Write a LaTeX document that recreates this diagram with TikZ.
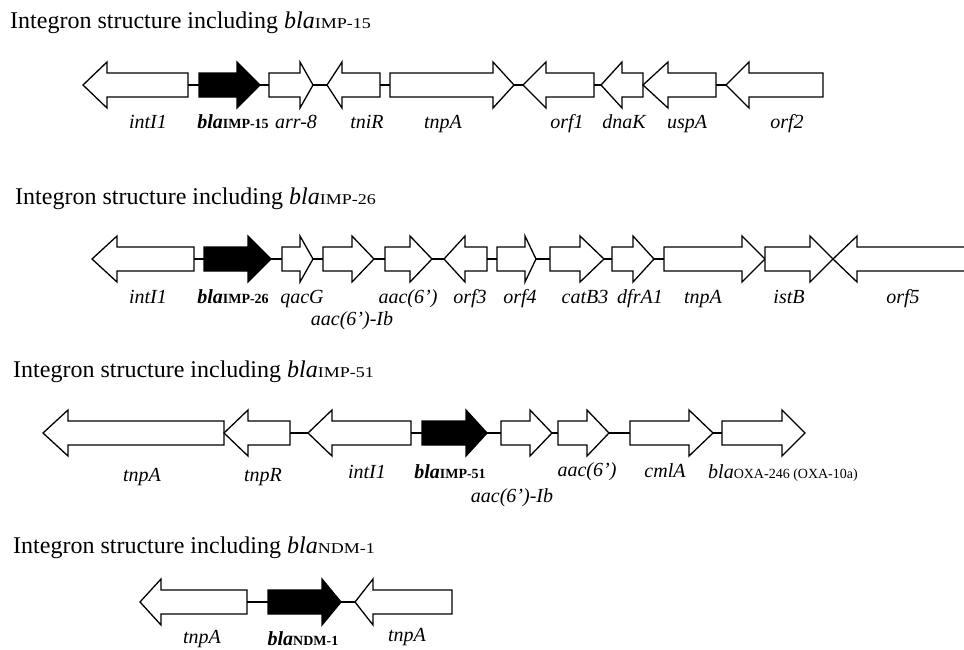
\documentclass[tikz,border=0pt]{standalone}
\usepackage{fontspec}
\usepackage{graphicx}
\setmainfont{Liberation Serif}
\tikzset{
  gene/.style={draw=black,line width=1.3pt,line join=miter},
  link/.style={draw=black,line width=1.3pt},
  ttl/.style={anchor=base west,inner sep=0pt,font=\fontsize{24}{28}\selectfont},
  lbl/.style={anchor=base,inner sep=0pt,font=\fontsize{20}{24}\selectfont\itshape},
}
\newcommand\sub[1]{{\fontsize{14}{16}\selectfont\upshape #1}}
\newcommand\tsub[1]{\scalebox{1.2}[1]{\fontsize{15}{17}\selectfont\upshape #1}}
\newcommand\bsub[1]{{\fontsize{14}{16}\selectfont\upshape\bfseries #1}}
% right-pointing gene: name, tail x, head base x, tip x, y, fill
\newcommand\gR[6]{%
  \draw[gene,fill=#6] (#2,#5-12) -- (#3,#5-12) -- (#3,#5-23) -- (#4,#5) -- (#3,#5+23) -- (#3,#5+12) -- (#2,#5+12) -- cycle;
  \coordinate (#1-l) at (#2,#5); \coordinate (#1-r) at (#4,#5);}
% left-pointing gene: name, tip x, head base x, tail x, y, fill
\newcommand\gL[6]{%
  \draw[gene,fill=#6] (#4,#5-12) -- (#3,#5-12) -- (#3,#5-23) -- (#2,#5) -- (#3,#5+23) -- (#3,#5+12) -- (#4,#5+12) -- cycle;
  \coordinate (#1-l) at (#2,#5); \coordinate (#1-r) at (#4,#5);}
\begin{document}
\begin{tikzpicture}[x=1pt,y=-1pt]
\useasboundingbox[fill=white] (0,0) rectangle (964,649);
% ---------------- Row 1 ----------------
\node[ttl] (t1) at (10,28) {Integron structure including \textit{bla}\tsub{IMP-15}};
\gL{a1}{83}{107}{188}{85}{white}
\gR{a2}{199}{237}{260}{85}{black}
\gR{a3}{269}{300}{313}{85}{white}
\gL{a4}{327}{342}{380}{85}{white}
\gR{a5}{390}{493}{514}{85}{white}
\gL{a6}{523}{546}{594}{85}{white}
\gL{a7}{601}{622}{643}{85}{white}
\gL{a8}{643}{668}{716}{85}{white}
\gL{a9}{726}{749}{823}{85}{white}
\draw[link] (a1-r) -- (a2-l);
\draw[link] (a2-r) -- (a3-l);
\draw[link] (a3-r) -- (a4-l);
\draw[link] (a4-r) -- (a5-l);
\draw[link] (a5-r) -- (a6-l);
\draw[link] (a6-r) -- (a7-l);
\draw[link] (a8-r) -- (a9-l);
\node[lbl] (l1a) at (148,128) {intI1};
\node[lbl] (l1b) at (233,128) {\textbf{bla}\bsub{IMP-15}};
\node[lbl] (l1c) at (296,128) {arr-8};
\node[lbl] (l1d) at (367,128) {tniR};
\node[lbl] (l1e) at (443,128) {tnpA};
\node[lbl] (l1f) at (567,128) {orf1};
\node[lbl] (l1g) at (624,128) {dnaK};
\node[lbl] (l1h) at (687,128) {uspA};
\node[lbl] (l1i) at (787,128) {orf2};
% ---------------- Row 2 ----------------
\node[ttl] (t2) at (15,204) {Integron structure including \textit{bla}\tsub{IMP-26}};
\gL{b1}{92}{117}{194}{259}{white}
\gR{b2}{204}{248}{271}{259}{black}
\gR{b3}{282}{300}{313}{259}{white}
\gR{b4}{323}{352}{374}{259}{white}
\gR{b5}{385}{410}{432}{259}{white}
\gL{b6}{444}{465}{487}{259}{white}
\gR{b7}{497}{525}{536}{259}{white}
\gR{b8}{550}{580}{604}{259}{white}
\gR{b9}{612}{633}{654}{259}{white}
\gR{b10}{664}{742}{765}{259}{white}
\gR{b11}{765}{810}{833}{259}{white}
\draw[gene,fill=white] (970,247) -- (857,247) -- (857,236) -- (833,259) -- (857,282) -- (857,271) -- (970,271);
\coordinate (b12-l) at (833,259);
\draw[link] (b1-r) -- (b2-l);
\draw[link] (b2-r) -- (b3-l);
\draw[link] (b3-r) -- (b4-l);
\draw[link] (b4-r) -- (b5-l);
\draw[link] (b5-r) -- (b6-l);
\draw[link] (b6-r) -- (b7-l);
\draw[link] (b7-r) -- (b8-l);
\draw[link] (b8-r) -- (b9-l);
\draw[link] (b9-r) -- (b10-l);
\node[lbl] (l2a) at (148,303) {intI1};
\node[lbl] (l2b) at (233,303) {\textbf{bla}\bsub{IMP-26}};
\node[lbl] (l2c) at (302,303) {qacG};
\node[lbl] (l2d) at (352,325) {aac(6’)-Ib};
\node[lbl] (l2e) at (408,303) {aac(6’)};
\node[lbl] (l2f) at (470,303) {orf3};
\node[lbl] (l2g) at (520,303) {orf4};
\node[lbl] (l2h) at (585,303) {catB3};
\node[lbl] (l2i) at (640,303) {dfrA1};
\node[lbl] (l2j) at (703,303) {tnpA};
\node[lbl] (l2k) at (789,303) {istB};
\node[lbl] (l2l) at (903,303) {orf5};
% ---------------- Row 3 ----------------
\node[ttl] (t3) at (13,377) {Integron structure including \textit{bla}\tsub{IMP-51}};
\gL{c1}{43}{68}{224}{433}{white}
\gL{c2}{224}{248}{290}{433}{white}
\gL{c3}{308}{332}{411}{433}{white}
\gR{c4}{422}{466}{487}{433}{black}
\gR{c5}{501}{530}{552}{433}{white}
\gR{c6}{558}{587}{609}{433}{white}
\gR{c7}{630}{689}{713}{433}{white}
\gR{c8}{722}{782}{805}{433}{white}
\draw[link] (c2-r) -- (c3-l);
\draw[link] (c3-r) -- (c4-l);
\draw[link] (c4-r) -- (c5-l);
\draw[link] (c5-r) -- (c6-l);
\draw[link] (c6-r) -- (c7-l);
\draw[link] (c7-r) -- (c8-l);
\node[lbl] (l3a) at (142,481) {tnpA};
\node[lbl] (l3b) at (263,481) {tnpR};
\node[lbl] (l3c) at (367,478) {intI1};
\node[lbl] (l3d) at (450,478) {\textbf{bla}\bsub{IMP-51}};
\node[lbl] (l3e) at (512,502) {aac(6’)-Ib};
\node[lbl] (l3f) at (587,476) {aac(6’)};
\node[lbl] (l3g) at (665,477) {cmlA};
\node[lbl,anchor=base west] (l3h) at (708,478) {bla\sub{OXA-246 (OXA-10a)}};
% ---------------- Row 4 ----------------
\node[ttl] (t4) at (13,553) {Integron structure including \textit{bla}\tsub{NDM-1}};
\gL{d1}{140}{161}{247}{602}{white}
\gR{d2}{268}{322}{341}{602}{black}
\gL{d3}{355}{373}{452}{602}{white}
\draw[link] (d1-r) -- (d2-l);
\draw[link] (d2-r) -- (d3-l);
\node[lbl] (l4a) at (202,643) {tnpA};
\node[lbl] (l4b) at (303,645) {\textbf{bla}\bsub{NDM-1}};
\node[lbl] (l4c) at (407,641) {tnpA};
\end{tikzpicture}
\end{document}
